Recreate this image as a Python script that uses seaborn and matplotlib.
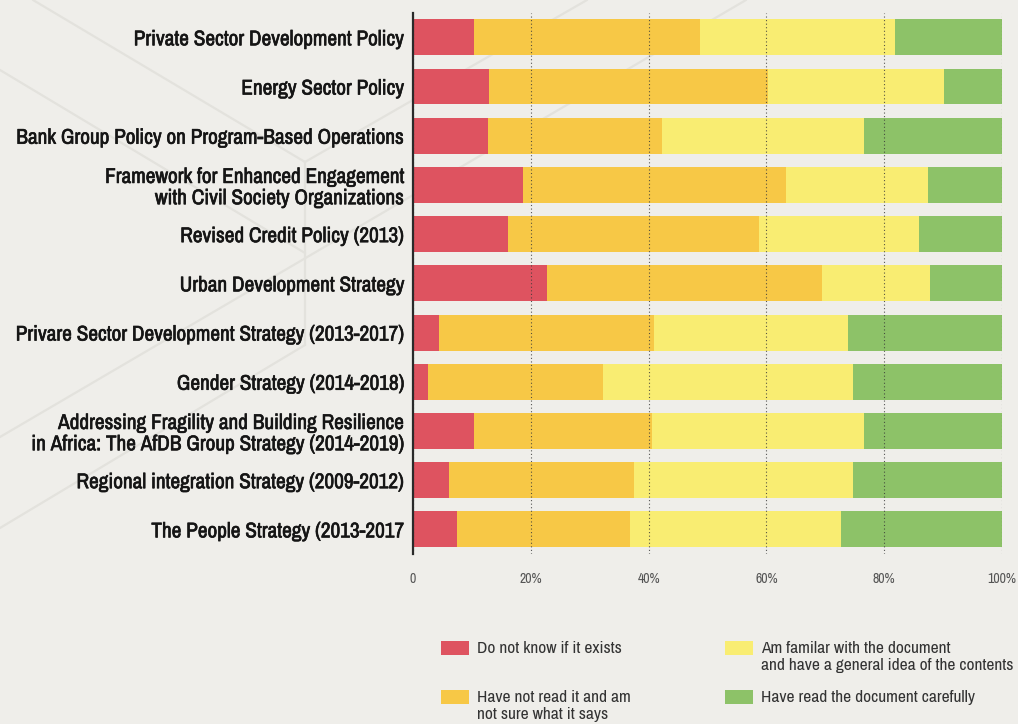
import matplotlib
matplotlib.use("Agg")
import matplotlib.pyplot as plt
import matplotlib.patheffects as pe
from matplotlib.lines import Line2D
from matplotlib.patches import Rectangle
import pandas as pd
import seaborn as sns

# Documents surveyed (top to bottom)
documents = [
    "Private Sector Development Policy",
    "Energy Sector Policy",
    "Bank Group Policy on Program-Based Operations",
    "Framework for Enhanced Engagement\nwith Civil Society Organizations",
    "Revised Credit Policy (2013)",
    "Urban Development Strategy",
    "Privare Sector Development Strategy (2013-2017)",
    "Gender Strategy (2014-2018)",
    "Addressing Fragility and Building Resilience\nin Africa: The AfDB Group Strategy (2014-2019)",
    "Regional integration Strategy (2009-2012)",
    "The People Strategy (2013-2017",
]

# Share of respondents (%) per answer
not_aware = [10.4, 12.9, 12.7, 18.7, 16.2, 22.8, 4.4, 2.5, 10.4, 6.1, 7.5]
not_read = [38.4, 47.3, 29.5, 44.6, 42.5, 46.6, 36.6, 29.7, 30.1, 31.5, 29.3]
familiar = [33.0, 30.0, 34.4, 24.2, 27.2, 18.4, 32.8, 42.5, 36.1, 37.1, 35.8]
read_carefully = [18.2, 9.8, 23.4, 12.5, 14.1, 12.2, 26.2, 25.3, 23.4, 25.3, 27.4]

answers = [
    "Do not know if it exists",
    "Have not read it and am\nnot sure what it says",
    "Am familar with the document\nand have a general idea of the contents",
    "Have read the document carefully",
]
colors = ["#de5360", "#f7c846", "#f9ed72", "#8dc268"]

x_ticks = [0, 20, 40, 60, 80, 100]
x_tick_labels = ["0", "20%", "40%", "60%", "80%", "100%"]

BG = "#efeeea"
FONT = ["Archivo Narrow", "DejaVu Sans"]

sns.set_theme(style="white")
plt.rcParams["font.family"] = FONT

fig = plt.figure(figsize=(10.18, 7.24), dpi=100, facecolor=BG)

# faint decorative background lines (figure pixel coordinates, y from top)
W, H = 1018, 724
deco = [
    ((33, 0), (305, 162)),
    ((0, 70), (305, 253)),
    ((305, 162), (587, 0)),
    ((0, 437), (746, 0)),
    ((305, 162), (305, 345)),
    ((0, 528), (305, 345)),
]
for (x0, y0), (x1, y1) in deco:
    fig.add_artist(Line2D([x0 / W, x1 / W], [1 - y0 / H, 1 - y1 / H],
                          transform=fig.transFigure, color="#e3e2dd",
                          lw=1.6, zorder=0))

ax = fig.add_axes([413 / W, 1 - 554 / H, (1002 - 413) / W, (554 - 12.7) / H])
ax.set_facecolor("none")

df = pd.DataFrame({
    "document": documents,
    answers[0]: not_aware,
    answers[1]: not_read,
    answers[2]: familiar,
    answers[3]: read_carefully,
})
cum = df[answers].cumsum(axis=1)

# stacked bars: draw cumulative totals from the outermost segment inwards
for ans, col in reversed(list(zip(answers, colors))):
    sns.barplot(x=cum[ans], y=df["document"], orient="h", color=col,
                saturation=1, width=0.73, linewidth=0, ax=ax)

ax.set_xlim(0, 100)
ax.set_ylim(10.5, -0.5)
ax.set_xlabel("")
ax.set_ylabel("")
ax.set_xticks(x_ticks)
ax.set_xticklabels(x_tick_labels)

for s in ["top", "right", "bottom"]:
    ax.spines[s].set_visible(False)
ax.spines["left"].set_color("#2a2a2a")
ax.spines["left"].set_linewidth(1.6)
ax.spines["left"].set_zorder(5)

ax.grid(axis="x", linestyle=(0, (1, 2.2)), color="#3a3a3a", lw=0.8, alpha=0.85)
ax.grid(axis="y", visible=False)
ax.set_axisbelow(False)

ax.tick_params(axis="x", length=0, pad=13, labelsize=10, labelcolor="#555555")
ax.tick_params(axis="y", length=2.5, width=2.5, direction="inout", color="#111111",
               pad=5, labelsize=15.3, labelcolor="#151515")
label_weight = [pe.withStroke(linewidth=0.45, foreground="#151515")]
for lab in ax.get_yticklabels():
    lab.set_linespacing(1.08)
    lab.set_path_effects(label_weight)

# legend in two columns below the chart
pos = [(441, 641), (441, 690), (725, 641), (725, 690)]
for (px, py), ans, col in zip(pos, answers, colors):
    fig.add_artist(Rectangle((px / W, 1 - (py + 14) / H), 28 / W, 14 / H,
                             transform=fig.transFigure, color=col, lw=0))
    fig.text((px + 36) / W, 1 - py / H, ans, ha="left", va="top",
             fontsize=12.5, color="#333333", linespacing=1.2)

fig.savefig("out.png", dpi=100, facecolor=BG)
